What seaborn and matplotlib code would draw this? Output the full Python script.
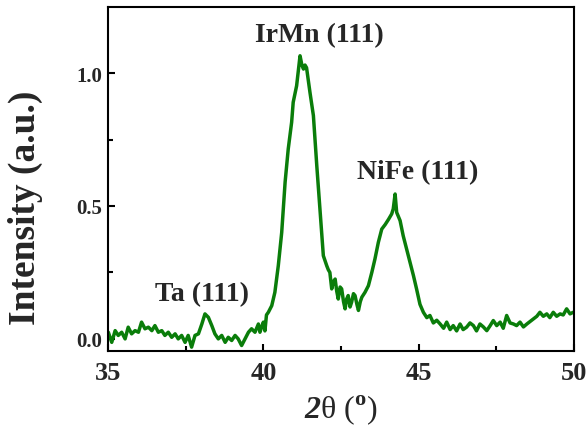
import pandas as pd
import matplotlib
matplotlib.use("Agg")
import matplotlib.pyplot as plt
import seaborn as sns
from matplotlib.ticker import MultipleLocator, FormatStrFormatter

# XRD pattern
two_theta = [35.01, 35.12, 35.23, 35.33, 35.44, 35.55, 35.65, 35.76, 35.87, 35.98,
             36.08, 36.19, 36.30, 36.41, 36.51, 36.62, 36.73, 36.83, 36.94, 37.05,
             37.16, 37.26, 37.37, 37.48, 37.58, 37.69, 37.80, 37.91, 38.02, 38.12,
             38.23, 38.34, 38.44, 38.55, 38.66, 38.77, 38.87, 38.98, 39.09, 39.19,
             39.30, 39.41, 39.52, 39.62, 39.73, 39.84, 39.89, 39.94, 40.00, 40.05,
             40.10, 40.16, 40.27, 40.37, 40.48, 40.59, 40.70, 40.80, 40.91, 40.96,
             41.07, 41.18, 41.24, 41.29, 41.34, 41.39, 41.50, 41.61, 41.72, 41.82,
             41.93, 42.04, 42.09, 42.14, 42.20, 42.25, 42.31, 42.36, 42.41, 42.47,
             42.52, 42.58, 42.63, 42.68, 42.73, 42.79, 42.84, 42.90, 42.95, 43.01,
             43.06, 43.12, 43.17, 43.27, 43.38, 43.49, 43.59, 43.70, 43.81, 43.92,
             44.03, 44.13, 44.18, 44.24, 44.29, 44.40, 44.50, 44.61, 44.72, 44.83,
             44.93, 45.04, 45.15, 45.26, 45.36, 45.47, 45.58, 45.69, 45.80, 45.90,
             46.01, 46.11, 46.22, 46.33, 46.43, 46.54, 46.65, 46.76, 46.86, 46.97,
             47.08, 47.19, 47.30, 47.40, 47.51, 47.62, 47.72, 47.83, 47.94, 48.05,
             48.15, 48.26, 48.37, 48.48, 48.58, 48.69, 48.80, 48.90, 49.01, 49.12,
             49.22, 49.33, 49.44, 49.55, 49.65, 49.76, 49.87, 49.97]
intensity = [0.025, -0.013, 0.031, 0.013, 0.025, 0.000, 0.044, 0.019, 0.031, 0.025,
             0.063, 0.038, 0.044, 0.031, 0.050, 0.025, 0.031, 0.013, 0.025, 0.006,
             0.019, 0.000, 0.013, -0.013, 0.013, -0.031, 0.013, 0.019, 0.056, 0.094,
             0.081, 0.050, 0.019, 0.000, 0.013, -0.013, 0.006, -0.006, 0.013, 0.000,
             -0.025, 0.000, 0.025, 0.038, 0.025, 0.056, 0.025, 0.044, 0.063, 0.030,
             0.090, 0.100, 0.125, 0.175, 0.275, 0.400, 0.590, 0.714, 0.815, 0.890,
             0.952, 1.065, 1.030, 1.015, 1.030, 1.020, 0.927, 0.840, 0.650, 0.490,
             0.313, 0.275, 0.260, 0.250, 0.188, 0.215, 0.225, 0.180, 0.150, 0.195,
             0.188, 0.140, 0.113, 0.150, 0.163, 0.120, 0.138, 0.170, 0.163, 0.130,
             0.107, 0.140, 0.157, 0.175, 0.200, 0.250, 0.300, 0.363, 0.413, 0.430,
             0.450, 0.470, 0.489, 0.545, 0.476, 0.445, 0.388, 0.338, 0.288, 0.238,
             0.188, 0.130, 0.100, 0.080, 0.088, 0.060, 0.070, 0.056, 0.040, 0.063,
             0.035, 0.050, 0.030, 0.056, 0.035, 0.044, 0.060, 0.050, 0.030, 0.056,
             0.045, 0.031, 0.050, 0.069, 0.050, 0.063, 0.040, 0.088, 0.060, 0.056,
             0.050, 0.063, 0.045, 0.056, 0.065, 0.075, 0.085, 0.100, 0.085, 0.094,
             0.080, 0.100, 0.085, 0.094, 0.090, 0.113, 0.094, 0.100]

peak_labels = ["Ta (111)", "IrMn (111)", "NiFe (111)"]
label_x = [38.01, 41.79, 44.96]
label_y = [0.17, 1.143, 0.63]

df = pd.DataFrame({"two_theta": two_theta, "intensity": intensity})

sns.set_style("ticks")
plt.rcParams["font.family"] = ["Liberation Serif", "DejaVu Serif"]
plt.rcParams["font.weight"] = "bold"
plt.rcParams["mathtext.fontset"] = "custom"
plt.rcParams["mathtext.rm"] = "Liberation Serif"
plt.rcParams["mathtext.bfit"] = "Liberation Serif:italic:bold"
plt.rcParams["mathtext.bf"] = "Liberation Serif:bold"

fig = plt.figure(figsize=(5.87, 4.27), dpi=100)
ax = fig.add_axes([0.184, 0.176, 0.794, 0.805])

sns.lineplot(data=df, x="two_theta", y="intensity", ax=ax, color="#0a7d0a",
             linewidth=2.5, sort=False, estimator=None)

ax.set_xlim(35, 50)
ax.set_ylim(-0.045, 1.248)
ax.xaxis.set_major_locator(MultipleLocator(5))
ax.xaxis.set_minor_locator(MultipleLocator(2.5))
ax.yaxis.set_major_locator(MultipleLocator(0.5))
ax.yaxis.set_minor_locator(MultipleLocator(0.25))
ax.yaxis.set_major_formatter(FormatStrFormatter("%.1f"))

ax.tick_params(which="both", direction="in", width=1.5, color="black",
               top=False, right=False)
ax.tick_params(which="major", length=5)
ax.tick_params(which="minor", length=3.5)
ax.tick_params(axis="x", labelsize=19, pad=7)
ax.tick_params(axis="y", labelsize=15, pad=4)
for lab in ax.get_xticklabels() + ax.get_yticklabels():
    lab.set_fontweight("bold")

for side in ["left", "right", "top", "bottom"]:
    ax.spines[side].set_linewidth(1.5)
    ax.spines[side].set_color("black")

ax.set_ylabel("Intensity (a.u.)", fontsize=27, fontweight="bold")
ax.yaxis.set_label_coords(-0.139, 0.419)
ax.set_xlabel(r"$\mathbfit{2}$θ ($^\mathrm{o}$)", fontsize=23, fontweight="normal")
ax.xaxis.set_label_coords(0.5, -0.122)

for txt, xx, yy in zip(peak_labels, label_x, label_y):
    ax.text(xx, yy, txt, ha="center", va="center", fontsize=20, fontweight="bold")

fig.savefig("out.png", dpi=100)
